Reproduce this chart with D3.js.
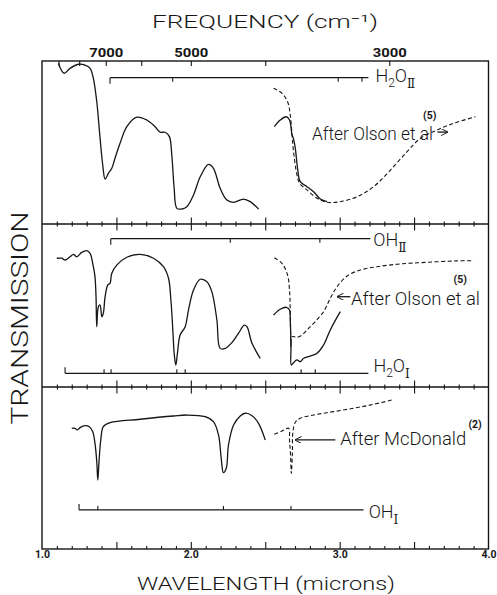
<!DOCTYPE html>
<html>
<head>
<meta charset="utf-8">
<script src="https://cdn.jsdelivr.net/npm/d3@7"></script>
<style>
  body { margin: 0; background: #fff; }
  svg { display: block; }
</style>
</head>
<body>
<svg id="chart" width="497" height="595"></svg>
<script>
// wavelength axis (microns)
const WL_MAJOR = [1.5, 2.0, 2.5, 3.0, 3.5];
const WL_MINOR = [1.1, 1.2, 1.3, 1.4, 1.6, 1.7, 1.8, 1.9, 2.1, 2.2, 2.3, 2.4,
                  2.6, 2.7, 2.8, 2.9, 3.1, 3.2, 3.3, 3.4, 3.6, 3.7, 3.8, 3.9];
const WL_LABELS = [1.0, 2.0, 3.0, 4.0];
// frequency axis (cm-1)
const FREQ_TICKS = [9000, 8000, 7000, 6000, 5000, 4000, 3000];
const FREQ_LABELS = [7000, 5000, 3000];

// spectra: [wavelength, transmission (panel %)]
const topSolid = [[1.110, 98.6], [1.148, 92.5], [1.188, 95.5], [1.244, 98.0], [1.289, 97.5], [1.323, 95.5],
  [1.345, 89.4], [1.368, 75.0], [1.390, 52.8], [1.408, 36.2], [1.424, 27.6], [1.446, 31.1], [1.469, 34.2],
  [1.491, 40.5], [1.525, 49.7], [1.570, 59.7], [1.637, 65.5], [1.704, 63.8], [1.760, 59.7], [1.794, 56.3],
  [1.827, 56.3], [1.856, 53.6], [1.872, 42.3], [1.888, 22.1], [1.906, 9.6], [1.940, 9.2], [1.973, 10.6],
  [2.018, 17.8], [2.063, 29.0], [2.119, 36.6], [2.152, 34.2], [2.197, 21.9], [2.242, 14.7], [2.287, 13.3],
  [2.354, 15.3], [2.399, 13.7], [2.455, 9.2]];
const topSolidRight = [[2.561, 59.7], [2.601, 63.8], [2.641, 65.8], [2.663, 63.8], [2.680, 54.6], [2.688, 52.8],
  [2.702, 46.4], [2.717, 34.2], [2.735, 26.0], [2.780, 22.9], [2.825, 19.8], [2.870, 15.3], [2.915, 13.7]];
const topDashed = [[2.556, 83.3], [2.612, 80.2], [2.650, 75.0], [2.668, 66.9], [2.680, 54.6], [2.690, 44.4],
  [2.713, 30.1], [2.731, 25.0], [2.780, 20.9], [2.848, 15.8], [2.915, 13.3], [3.004, 13.7], [3.117, 16.7],
  [3.228, 22.9], [3.341, 33.1], [3.453, 44.4], [3.543, 52.6], [3.655, 57.7], [3.767, 61.8], [3.912, 65.8]];

const midSolid = [[1.099, 79.0], [1.133, 79.0], [1.155, 77.9], [1.188, 79.9], [1.211, 81.4], [1.233, 79.9],
  [1.267, 82.6], [1.301, 83.6], [1.323, 82.0], [1.345, 73.8], [1.356, 67.7], [1.363, 55.4], [1.368, 37.0],
  [1.379, 49.3], [1.390, 50.3], [1.402, 43.1], [1.412, 45.2], [1.424, 55.4], [1.442, 62.6], [1.457, 63.6],
  [1.469, 69.8], [1.502, 74.8], [1.570, 79.6], [1.659, 81.4], [1.749, 79.0], [1.816, 73.8], [1.850, 66.7],
  [1.866, 53.4], [1.879, 35.0], [1.888, 20.7], [1.899, 13.5], [1.910, 20.7], [1.928, 31.9], [1.962, 37.0],
  [1.984, 47.2], [2.018, 59.5], [2.063, 66.1], [2.108, 64.6], [2.141, 58.5], [2.175, 41.1], [2.197, 23.7],
  [2.231, 23.7], [2.276, 27.2], [2.320, 32.9], [2.359, 38.0], [2.377, 37.0], [2.411, 26.8], [2.466, 17.6]];
const midSolidRight = [[2.556, 44.2], [2.601, 47.7], [2.641, 48.9], [2.663, 47.2], [2.668, 41.1], [2.673, 24.7],
  [2.675, 13.5], [2.690, 14.9], [2.713, 16.6], [2.735, 15.5], [2.758, 17.6], [2.803, 19.0], [2.848, 20.7],
  [2.892, 25.8], [2.937, 35.0], [3.004, 46.2]];
const midDashed = [[2.561, 79.3], [2.612, 75.9], [2.650, 68.7], [2.663, 59.5], [2.668, 47.2], [2.673, 24.7],
  [2.680, 30.9], [2.713, 30.5], [2.747, 31.9], [2.791, 36.0], [2.836, 40.1], [2.892, 46.2], [2.937, 54.4],
  [2.982, 61.5], [3.050, 68.1], [3.139, 71.8], [3.251, 73.8], [3.408, 75.5], [3.588, 76.5], [3.767, 77.3],
  [3.901, 77.5]];

const botSolid = [[1.200, 74.5], [1.222, 74.5], [1.237, 73.5], [1.256, 74.9], [1.289, 76.1], [1.318, 75.5],
  [1.341, 72.4], [1.356, 65.2], [1.368, 53.9], [1.375, 42.6], [1.383, 53.9], [1.395, 67.3], [1.412, 75.5],
  [1.457, 78.0], [1.659, 80.1], [1.883, 82.1], [1.973, 82.7], [2.096, 81.7], [2.152, 78.6], [2.186, 70.4],
  [2.204, 56.0], [2.219, 47.1], [2.238, 49.8], [2.253, 64.2], [2.287, 76.5], [2.332, 82.1], [2.365, 83.8],
  [2.411, 82.3], [2.455, 77.6], [2.500, 67.3]];
const botDashed = [[2.561, 70.8], [2.612, 72.8], [2.657, 74.5], [2.663, 67.3], [2.670, 58.0], [2.675, 46.7],
  [2.682, 58.0], [2.686, 72.4], [2.702, 78.2], [2.735, 80.7], [2.825, 82.7], [2.959, 84.8], [3.094, 86.9],
  [3.228, 89.3], [3.352, 92.0]];

// band assignments (microns)
const H2O_II_BANDS = [1.457, 1.878, 2.99, 3.15];
const OH_II_BANDS = [1.462, 2.265, 2.867];
const H2O_I_BANDS = [1.155, 1.417, 1.464, 1.906, 1.962, 2.741, 2.836];
const OH_I_BANDS = [1.249, 1.375, 2.219, 2.673];

const ink = '#161616';
const font = 'Roboto,"Liberation Sans",sans-serif';
const svg = d3.select('#chart');

const left = 42, right = 488.5;
const edges = [61, 224, 387, 549];
const x = d3.scaleLinear().domain([1, 4]).range([left, right]);
const ys = [0, 1, 2].map(i => d3.scaleLinear().domain([0, 100]).range([edges[i + 1], edges[i]]));

// frame
svg.append('rect')
  .attr('x', left).attr('y', edges[0])
  .attr('width', right - left).attr('height', edges[3] - edges[0])
  .attr('fill', 'none').attr('stroke', ink).attr('stroke-width', 1.4);

// dividers with crossing ticks
[edges[1], edges[2]].forEach(yy => {
  svg.append('line').attr('x1', left).attr('x2', right).attr('y1', yy).attr('y2', yy)
    .attr('stroke', ink).attr('stroke-width', 1.4);
  [[WL_MINOR, 2.5], [WL_MAJOR, 6.5]].forEach(([vals, s]) => {
    const g = svg.append('g').attr('transform', `translate(0,${yy})`)
      .call(d3.axisBottom(x).tickValues(vals).tickSize(s).tickFormat(''));
    g.select('.domain').remove();
    g.selectAll('line').attr('y1', -s).attr('stroke', ink).attr('stroke-width', 1.1);
  });
});

// bottom axis, ticks pointing in
[[WL_MINOR, 3], [WL_MAJOR, 7]].forEach(([vals, s]) => {
  const g = svg.append('g').attr('transform', `translate(0,${edges[3]})`)
    .call(d3.axisTop(x).tickValues(vals).tickSize(s).tickFormat(''));
  g.select('.domain').remove();
  g.selectAll('line').attr('stroke', ink).attr('stroke-width', 1.1);
});
const bl = svg.append('g').attr('transform', `translate(0,${edges[3]})`)
  .call(d3.axisBottom(x).tickValues(WL_LABELS).tickSize(0).tickPadding(1.5).tickFormat(d3.format('.1f')));
bl.select('.domain').remove();
bl.selectAll('text').attr('font-family', font).attr('font-size', 10).attr('font-weight', 'bold')
  .attr('fill', ink).attr('textLength', 15).attr('lengthAdjust', 'spacingAndGlyphs');

// top frequency axis
const ft = svg.append('g').attr('transform', `translate(0,${edges[0]})`)
  .call(d3.axisBottom(x).tickValues(FREQ_TICKS.map(f => 1e4 / f)).tickSize(5).tickFormat(''));
ft.select('.domain').remove();
ft.selectAll('line').attr('stroke', ink).attr('stroke-width', 1.1);
const fl = svg.append('g').attr('transform', `translate(0,${edges[0]})`)
  .call(d3.axisTop(x).tickValues(FREQ_LABELS.map(f => 1e4 / f)).tickSize(0).tickPadding(4.5)
    .tickFormat(d => Math.round(1e4 / d)));
fl.select('.domain').remove();
fl.selectAll('text').attr('font-family', font).attr('font-size', 12).attr('font-weight', 'bold')
  .attr('fill', ink).attr('textLength', 34).attr('lengthAdjust', 'spacingAndGlyphs');

// spectra
const curves = [
  [topSolid, 0, false], [topSolidRight, 0, false], [topDashed, 0, true],
  [midSolid, 1, false], [midSolidRight, 1, false], [midDashed, 1, true],
  [botSolid, 2, false], [botDashed, 2, true]
];
curves.forEach(([data, p, dashed]) => {
  const line = d3.line().x(d => x(d[0])).y(d => ys[p](d[1])).curve(d3.curveCatmullRom.alpha(0.5));
  svg.append('path').datum(data).attr('d', line)
    .attr('fill', 'none').attr('stroke', ink)
    .attr('stroke-width', dashed ? 1.1 : 1.3)
    .attr('stroke-dasharray', dashed ? '4,2.5' : null)
    .attr('stroke-linejoin', 'round');
});

// band bars
const bars = [
  { p: 0, level: 89.8, start: 1.457, end: 3.193, bands: H2O_II_BANDS, dir: 1, lx: 7, ly: 4, parts: ['H', '2', 'O', 'Ⅱ'] },
  { p: 1, level: 91.0, start: 1.462, end: 3.206, bands: OH_II_BANDS, dir: 1, lx: 3, ly: 7.5, parts: ['OH', null, null, 'Ⅱ'] },
  { p: 1, level: 8.4, start: 1.155, end: 3.193, bands: H2O_I_BANDS, dir: -1, lx: 5, ly: -1.5, parts: ['H', '2', 'O', 'Ⅰ'] },
  { p: 2, level: 24.1, start: 1.249, end: 3.161, bands: OH_I_BANDS, dir: -1, lx: 5, ly: 8, parts: ['OH', null, null, 'Ⅰ'] }
];
bars.forEach(b => {
  const yy = ys[b.p](b.level);
  const g = svg.append('g');
  g.append('line').attr('x1', x(b.start)).attr('x2', x(b.end)).attr('y1', yy).attr('y2', yy)
    .attr('stroke', ink).attr('stroke-width', 1.3);
  g.selectAll('.band').data(b.bands).enter().append('line')
    .attr('x1', d => x(d)).attr('x2', d => x(d))
    .attr('y1', yy).attr('y2', (d, i) => yy + b.dir * (i === 0 ? 6 : 4))
    .attr('stroke', ink).attr('stroke-width', 1.1);
  const t = g.append('text').attr('x', x(b.end) + b.lx).attr('y', yy + b.ly)
    .attr('font-family', font).attr('font-weight', 300).attr('font-size', 18).attr('fill', ink);
  t.append('tspan').text(b.parts[0]);
  if (b.parts[1]) {
    t.append('tspan').attr('font-size', 12).attr('dy', 5).text(b.parts[1]);
    t.append('tspan').attr('dy', -5).text(b.parts[2]);
  }
  t.append('tspan').attr('font-size', 12).attr('dy', 6).attr('font-family', '"DejaVu Serif",serif').text(b.parts[3]);
});

// annotations
svg.append('defs').append('marker')
  .attr('id', 'head').attr('viewBox', '0 0 10 10').attr('refX', 9).attr('refY', 5)
  .attr('markerWidth', 7).attr('markerHeight', 7).attr('markerUnits', 'userSpaceOnUse').attr('orient', 'auto')
  .append('path').attr('d', 'M0,0 L10,5 L0,10').attr('fill', 'none').attr('stroke', ink).attr('stroke-width', 1.4);

const notes = [
  { p: 0, wl: 2.814, t: 51.5, size: 18, text: 'After Olson et al', len: 121, ref: '(5)', rwl: 3.56, rt: 64.6,
    arrow: [3.657, 3.724, 56.4] },
  { p: 1, wl: 3.076, t: 50.3, size: 19, text: 'After Olson et al', len: 129, ref: '(5)', rwl: 3.765, rt: 63.8,
    arrow: [3.072, 2.984, 55.4] },
  { p: 2, wl: 3.004, t: 64.2, size: 19, text: 'After McDonald', len: 126, ref: '(2)', rwl: 3.865, rt: 74.5,
    arrow: [2.971, 2.702, 67.3] }
];
notes.forEach(n => {
  const y = ys[n.p];
  svg.append('text').attr('x', x(n.wl)).attr('y', y(n.t))
    .attr('font-family', font).attr('font-weight', 300).attr('font-size', n.size).attr('fill', ink)
    .attr('textLength', n.len).attr('lengthAdjust', 'spacingAndGlyphs').text(n.text);
  svg.append('text').attr('x', x(n.rwl)).attr('y', y(n.rt))
    .attr('font-family', font).attr('font-size', 10.5).attr('font-weight', 'bold').attr('fill', ink).text(n.ref);
  svg.append('line').attr('x1', x(n.arrow[0])).attr('x2', x(n.arrow[1]))
    .attr('y1', y(n.arrow[2])).attr('y2', y(n.arrow[2]))
    .attr('stroke', ink).attr('stroke-width', 1.3).attr('marker-end', 'url(#head)');
});

// titles
const title = (tx, ty, size, len, str, rot) => svg.append('text')
  .attr('transform', `translate(${tx},${ty})` + (rot ? ' rotate(-90)' : ''))
  .attr('text-anchor', 'middle')
  .attr('font-family', font).attr('font-weight', 300).attr('font-size', size).attr('fill', ink)
  .attr('textLength', len).attr('lengthAdjust', 'spacingAndGlyphs').text(str);
title(265, 28, 19, 226, 'FREQUENCY  (cm⁻¹)');
title(266, 590, 19, 258, 'WAVELENGTH  (microns)');
title(28.3, 318, 23, 213, 'TRANSMISSION', true);
</script>
</body>
</html>
